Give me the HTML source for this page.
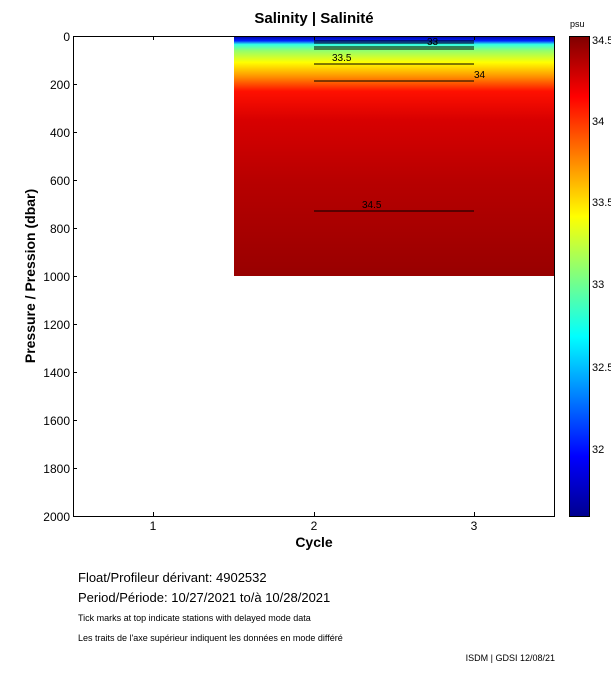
<!DOCTYPE html>
<html><head><style>html,body{margin:0;padding:0;background:#fff;overflow:hidden;width:611px;height:675px}svg{display:block}text{font-family:"Liberation Sans",sans-serif}</style></head><body>
<svg width="611" height="675" viewBox="0 0 611 675" xmlns="http://www.w3.org/2000/svg">
<defs>
<linearGradient id="d" x1="0" y1="0" x2="0" y2="1">
<stop offset="0" stop-color="#00009a"/><stop offset="0.02" stop-color="#0020ff"/>
<stop offset="0.035" stop-color="#30ffe8"/><stop offset="0.06" stop-color="#90ff70"/>
<stop offset="0.11" stop-color="#ffff00"/><stop offset="0.17" stop-color="#ff9000"/>
<stop offset="0.23" stop-color="#ff1000"/><stop offset="0.35" stop-color="#d80000"/>
<stop offset="0.6" stop-color="#b80000"/><stop offset="1" stop-color="#980000"/>
</linearGradient>
<linearGradient id="c" x1="0" y1="1" x2="0" y2="0">
<stop offset="0" stop-color="#00008f"/><stop offset="0.125" stop-color="#0000ff"/>
<stop offset="0.375" stop-color="#00ffff"/><stop offset="0.625" stop-color="#ffff00"/>
<stop offset="0.875" stop-color="#ff0000"/><stop offset="1" stop-color="#800000"/>
</linearGradient>
</defs>
<text x="314" y="23" font-size="15" font-weight="bold" text-anchor="middle">Salinity | Salinité</text>
<rect x="234" y="36" width="320" height="240" fill="url(#d)"/>
<g stroke="#000" stroke-width="1" fill="none">
<path d="M314 41H474M314 43H474M314 47H474M314 49H474M314 64H474M314 81H474M314 211H474"/>
</g>
<g font-size="10">
<text x="332" y="61">33.5</text><text x="474" y="78">34</text><text x="427" y="45">33</text><text x="362" y="208">34.5</text>
</g>
<rect x="73.5" y="36.5" width="481" height="480" fill="none" stroke="#000"/>
<g stroke="#000">
<path d="M73 84.5h4M73 132.5h4M73 180.5h4M73 228.5h4M73 276.5h4M73 324.5h4M73 372.5h4M73 420.5h4M73 468.5h4"/>
<path d="M153.5 516v-4M314.5 516v-4M474.5 516v-4M153.5 36v4M314.5 36v4M474.5 36v4"/>
<path d="M569 40.5h3M569 121.5h3M569 202.5h3M569 284.5h3M569 367.5h3M569 449.5h3M587 40.5h3M587 121.5h3M587 202.5h3M587 284.5h3M587 367.5h3M587 449.5h3"/>
</g>
<g font-size="12" text-anchor="end">
<text x="70" y="41">0</text><text x="70" y="89">200</text><text x="70" y="137">400</text><text x="70" y="185">600</text><text x="70" y="233">800</text><text x="70" y="281">1000</text><text x="70" y="329">1200</text><text x="70" y="377">1400</text><text x="70" y="425">1600</text><text x="70" y="473">1800</text><text x="70" y="521">2000</text>
</g>
<g font-size="12" text-anchor="middle"><text x="153" y="530">1</text><text x="314" y="530">2</text><text x="474" y="530">3</text></g>
<text x="314" y="547" font-size="14" font-weight="bold" text-anchor="middle">Cycle</text>
<text transform="translate(35,276) rotate(-90)" font-size="14" font-weight="bold" text-anchor="middle">Pressure / Pression (dbar)</text>
<rect x="569.5" y="36.5" width="20" height="480" fill="url(#c)" stroke="#000"/>
<text x="570" y="27" font-size="9">psu</text>
<g font-size="11"><text x="592" y="44">34.5</text><text x="592" y="125">34</text><text x="592" y="206">33.5</text><text x="592" y="288">33</text><text x="592" y="371">32.5</text><text x="592" y="453">32</text></g>
<text x="78" y="582" font-size="13">Float/Profileur dérivant:  4902532</text>
<text x="78" y="602" font-size="13">Period/Période:  10/27/2021  to/à  10/28/2021</text>
<text x="78" y="621" font-size="9">Tick marks at top indicate stations with delayed mode data</text>
<text x="78" y="641" font-size="9">Les traits de l'axe supérieur indiquent les données en mode différé</text>
<text x="555" y="661" font-size="9" text-anchor="end">ISDM | GDSI  12/08/21</text>
</svg>
</body></html>
